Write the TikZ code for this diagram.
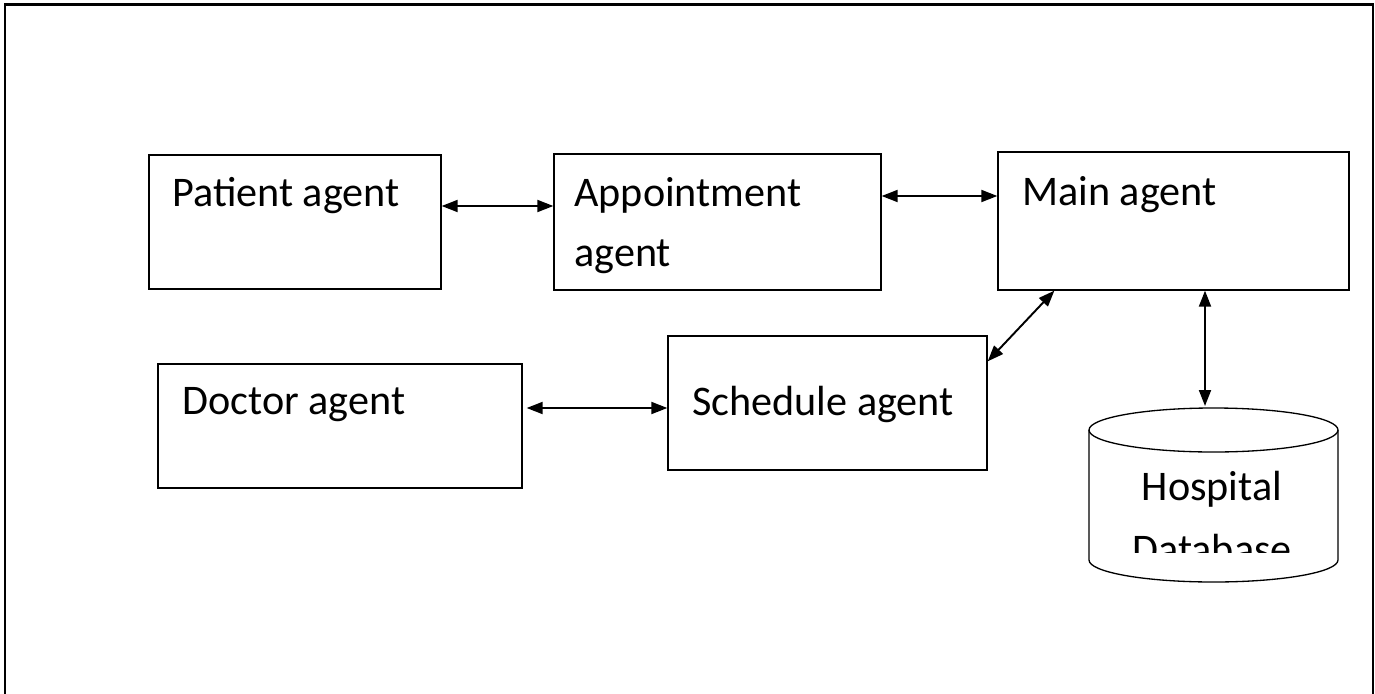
\documentclass[tikz,border=0pt]{standalone}
\usepackage{fontspec}
\setmainfont{Carlito}
\usetikzlibrary{arrows.meta}
\tikzset{
  agentbox/.style={draw, line width=0.75pt, inner sep=0pt},
  lbl/.style={inner sep=0pt, font=\fontsize{24}{34}\selectfont},
  link/.style={line width=1.1pt, {Triangle[length=0.32cm,width=0.24cm]}-{Triangle[length=0.32cm,width=0.24cm]}}
}
\begin{document}
\begin{tikzpicture}
\useasboundingbox (0,0) rectangle (27.5,-13.88);
\draw[line width=1.2pt] (0.1,-13.88)--(0.1,-0.09)--(27.46,-0.09)--(27.46,-13.88);

\node[agentbox, minimum width=5.84cm, minimum height=2.68cm] (patient) at (5.9,-4.44) {};
\node[agentbox, minimum width=6.54cm, minimum height=2.72cm] (appt) at (14.35,-4.44) {};
\node[agentbox, minimum width=7.02cm, minimum height=2.76cm] (main) at (23.47,-4.42) {};
\node[agentbox, minimum width=7.28cm, minimum height=2.48cm] (doctor) at (6.8,-8.52) {};
\node[agentbox, minimum width=6.38cm, minimum height=2.68cm] (schedule) at (16.55,-8.06) {};

\node[lbl, anchor=base west] (patienttxt) at (3.44,-4.12) {Patient agent};
\node[lbl, anchor=base west] (appttxt) at (11.48,-4.12) {Appointment};
\node[lbl, anchor=base west] (appttxtb) at (11.48,-5.32) {agent};
\node[lbl, anchor=base west] (maintxt) at (20.44,-4.1) {Main agent};
\node[lbl, anchor=base west] (doctortxt) at (3.64,-8.28) {Doctor agent};
\node[lbl, anchor=base west] (scheduletxt) at (13.84,-8.3) {Schedule agent};

% database
\draw[line width=0.75pt] (24.27,-8.6) ellipse (2.49 and 0.44);
\draw[line width=0.75pt] (21.78,-8.6)--(21.78,-11.2) arc (180:360:2.49 and 0.44)--(26.76,-8.6);
\coordinate (dbtop) at (24.1,-8.12);
\node[lbl, anchor=base] (dbtxt) at (24.24,-10.0) {Hospital};
\begin{scope}
\clip (21.8,-10.3) rectangle (26.7,-11.04);
\node[lbl, anchor=base] (dbtxtb) at (24.24,-11.26) {Database};
\end{scope}

\draw[link] ([yshift=0.32cm]patient.east) -- ([yshift=0.32cm]appt.west);
\coordinate (amy) at ([yshift=0.52cm]appt.east);
\draw[link] (amy) -- (amy -| main.west);
\coordinate (dsy) at ([yshift=-0.1cm]schedule.west);
\draw[link, shorten <=0.08cm] (dsy -| doctor.east) -- (dsy);
\draw[link] ([xshift=1.14cm]main.south west) -- ([yshift=-0.52cm]schedule.north east);
\draw[link] (dbtop |- main.south) -- (dbtop);
\end{tikzpicture}
\end{document}
